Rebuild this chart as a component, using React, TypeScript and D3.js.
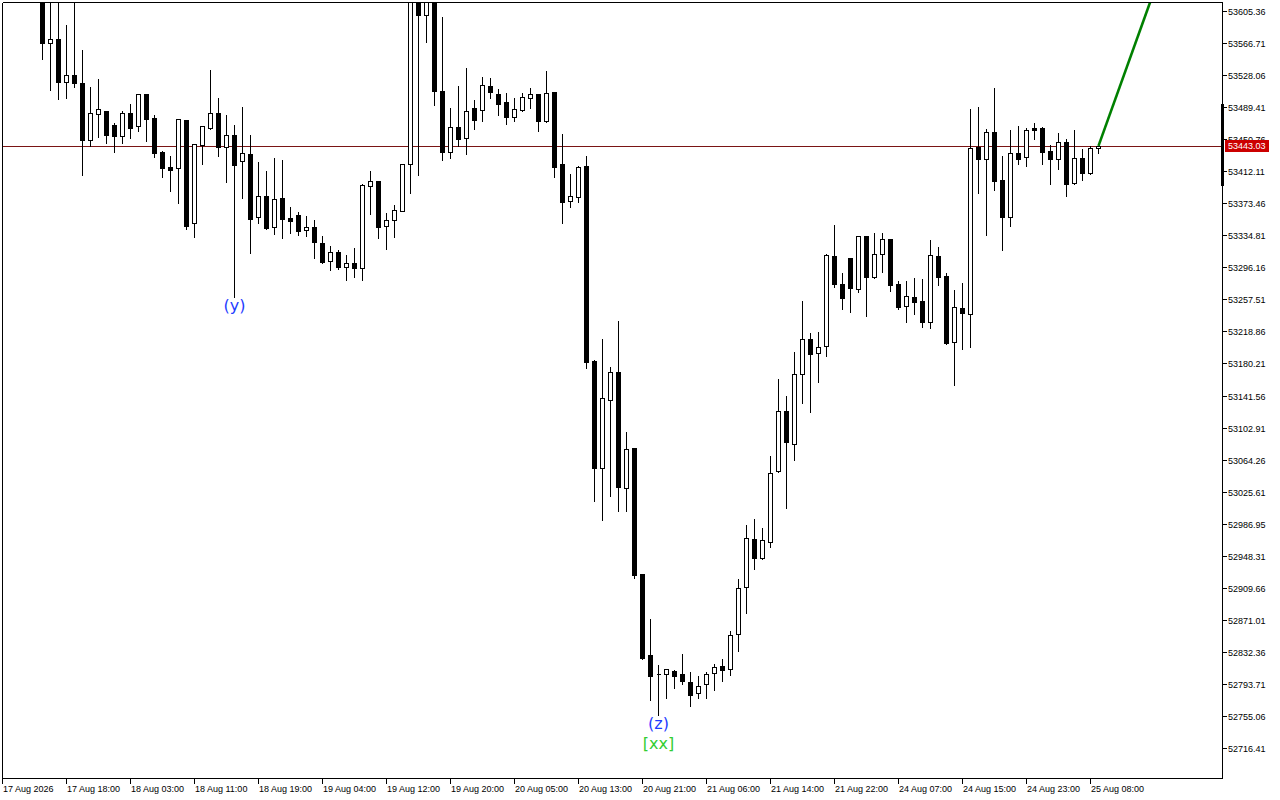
import * as d3 from 'd3'

// first visible bar index (bars 0-4 sit above the visible price range)
const firstBar = 5

const opens = [
  53625, 53567.6, 53572.1, 53519.8, 53528.3, 53519.0, 53450.5, 53481.9, 53485.1, 53467.9, 53455.3,
  53482.7, 53467.4, 53506.0, 53476.7, 53435.6, 53417.5, 53415.9, 53474.3, 53350.2, 53444.4, 53465.0,
  53482.7, 53442.0, 53455.8, 53424.4, 53432.9, 53356.8, 53382.1, 53344.7, 53379.7, 53355.6, 53359.2,
  53341.1, 53344.7, 53325.4, 53303.6, 53314.5, 53297.1, 53301.2, 53295.9, 53394.9, 53401.0, 53345.9,
  53353.9, 53364.7, 53420.8, 53625.2, 53600.7, 53622.8, 53509.3, 53436.0, 53465.8, 53452.9, 53488.8,
  53486.7, 53515.3, 53505.7, 53496.0, 53478.3, 53486.4, 53501.2, 53505.7, 53472.7, 53508.1, 53421.1,
  53376.1, 53381.6, 53418.7, 53183.2, 53054.4, 53136.5, 53169.9, 53030.2, 53078.2, 52926.0, 52828.2,
  52805.8, 52804.9, 52808.5, 52804.9, 52795.2, 52781.9, 52792.8, 52806.1, 52814.5, 52810.9, 52853.2,
  52909.9, 52967.9, 52944.9, 52965.0, 53050.0, 53122.5, 53082.6, 53167.2, 53209.4, 53192.5, 53201.0,
  53309.7, 53275.8, 53307.3, 53269.8, 53333.8, 53284.3, 53312.4, 53330.2, 53275.8, 53249.3, 53260.2,
  53255.3, 53230.0, 53309.7, 53285.5, 53205.8, 53246.9, 53239.6, 53441.3, 53427.5, 53459.4, 53401.8,
  53357.5, 53434.1, 53429.2, 53464.6, 53464.6, 53436.5, 53427.5, 53447.3, 53398.6, 53428.0, 53410.6,
  53440.1,
]

const highs = [
  53637, 53630, 53628, 53590.2, 53622, 53560.0, 53515.3, 53525.0, 53486, 53471.9, 53486.4,
  53495.2, 53506.9, 53507.2, 53481.5, 53438.0, 53432.0, 53477.1, 53475.5, 53446, 53468.2, 53535.9,
  53502.1, 53481.5, 53469.4, 53491.2, 53457.0, 53424.8, 53413.9, 53429.6, 53427.2, 53370.4, 53364.4,
  53359.5, 53354.7, 53335.0, 53323.0, 53318.1, 53312.1, 53320.9, 53398.2, 53413.9, 53401.8, 53363.2,
  53372.8, 53422.3, 53633.7, 53631.3, 53628.9, 53626.4, 53599.9, 53490.0, 53516.5, 53538.3, 53499.6,
  53527.4, 53526.2, 53512.9, 53508.1, 53502.1, 53508.1, 53514.1, 53506.3, 53534.7, 53508.7, 53458.6,
  53410.3, 53419.9, 53432.0, 53185.6, 53211.0, 53177.2, 53232.7, 53098.7, 53078.8, 52926.6, 52872.8,
  52817.3, 52811.3, 52811.6, 52830.6, 52808.8, 52803.6, 52808.5, 52818.1, 52824.2, 52858.7, 52921.1,
  52986.4, 52993.6, 52982.4, 53069.3, 53162.3, 53141.8, 53194.9, 53256.5, 53217.9, 53219.1, 53313.3,
  53348.3, 53290.3, 53307.6, 53334.2, 53334.2, 53338.7, 53339.0, 53330.6, 53280.7, 53281.0, 53284.7,
  53283.5, 53330.6, 53322.1, 53290.3, 53270.2, 53278.6, 53488.8, 53491.2, 53464.3, 53514.1, 53431.6,
  53463.8, 53468.2, 53466.2, 53471.9, 53467.0, 53445.3, 53459.8, 53452.5, 53463.4, 53440.5, 53443.7,
  53443.5,
]

const lows = [
  53548.3, 53510.9, 53500.0, 53501.2, 53514.5, 53408.2, 53443.2, 53454.1, 53446.5, 53436.0, 53446.9,
  53452.9, 53461.4, 53449.3, 53430.0, 53405.8, 53388.9, 53374.4, 53342.3, 53333.3, 53421.5, 53464,
  53431.2, 53399.8, 53260.9, 53380.4, 53314.0, 53350.2, 53343.0, 53337.0, 53332.1, 53338.2, 53335.8,
  53334.5, 53308.0, 53301.9, 53293.5, 53294.7, 53281.4, 53285.0, 53281.4, 53361.1, 53332.1, 53318.1,
  53333.3, 53364.4, 53386.5, 53408.2, 53568.8, 53492.8, 53426.3, 53428.7, 53443.2, 53433.6, 53463.8,
  53473.4, 53501.2, 53480.7, 53469.8, 53473.1, 53485.1, 53489.1, 53461.0, 53471.9, 53405.4, 53349.9,
  53369.2, 53375.2, 53174.8, 53014.1, 52991.2, 53020.2, 53002.4, 53002.4, 52921.5, 52823.9, 52773.8,
  52755.7, 52776.6, 52788.7, 52793.5, 52766.9, 52776.6, 52776.6, 52786.2, 52797.1, 52804.4, 52833.3,
  52879.2, 52932.4, 52943.7, 52959.0, 53049.4, 53006.1, 53063.3, 53132.1, 53121.3, 53157.5, 53188.9,
  53272.2, 53245.7, 53242.8, 53266.2, 53237.9, 53284, 53291.1, 53268.1, 53246.4, 53230.7, 53240.3,
  53224.6, 53223.4, 53275.4, 53204.1, 53154.6, 53198.1, 53200.5, 53386.5, 53335.8, 53390.1, 53317.3,
  53346.3, 53421.1, 53418.7, 53451.7, 53421.1, 53397.3, 53415.1, 53382.9, 53397.3, 53402.2, 53409.4,
  53434.8,
]

const closes = [
  53567.6, 53571.7, 53520.5, 53528.3, 53519.3, 53450.5, 53482.4, 53487.6, 53456.5, 53455.3, 53482.4,
  53465.0, 53505.7, 53475.8, 53434.8, 53416.7, 53414.3, 53475.5, 53346.6, 53444.9, 53467.0, 53482.7,
  53442.0, 53455.8, 53420.3, 53434.1, 53355.1, 53382.1, 53344.2, 53378.5, 53354.4, 53352.7, 53339.9,
  53344.7, 53326.6, 53302.8, 53314.5, 53297.1, 53301.2, 53295.9, 53395.8, 53400.2, 53345.4, 53353.5,
  53365.2, 53421.1, 53622.8, 53601.4, 53621.6, 53509.7, 53436.0, 53465.8, 53451.7, 53485.1, 53474.6,
  53516.5, 53508.5, 53494.0, 53478.3, 53487.2, 53502.1, 53505.3, 53473.1, 53506.9, 53417.5, 53375.2,
  53382.5, 53417.5, 53182.0, 53054.4, 53138.5, 53169.9, 53031.4, 53076.9, 52924.8, 52824.5, 52803.2,
  52805.2, 52810.9, 52803.2, 52797.1, 52780.2, 52791.1, 52805.6, 52814.0, 52810.4, 52852.7, 52908.7,
  52969.1, 52944.9, 52966.7, 53047.6, 53122.5, 53085.8, 53167.2, 53209.4, 53191.3, 53199.8, 53310.9,
  53275.8, 53259.7, 53271.0, 53333.8, 53284.3, 53312.1, 53330.2, 53274.6, 53248.8, 53261.4, 53254.8,
  53230.0, 53310.9, 53285.0, 53205.3, 53248.1, 53240.8, 53440.1, 53427.5, 53459.4, 53401.0, 53357.5,
  53434.1, 53426.8, 53461.8, 53462.6, 53436.0, 53426.8, 53447.3, 53397.3, 53428.0, 53410.6, 53440.1,
  53443.03,
]

const timeLabels = [
  "17 Aug 2026", "17 Aug 18:00", "18 Aug 03:00", "18 Aug 11:00", "18 Aug 19:00", "19 Aug 04:00",
  "19 Aug 12:00", "19 Aug 20:00", "20 Aug 05:00", "20 Aug 13:00", "20 Aug 21:00", "21 Aug 06:00",
  "21 Aug 14:00", "21 Aug 22:00", "24 Aug 07:00", "24 Aug 15:00", "24 Aug 23:00", "25 Aug 08:00",
]
const timeLabelBars = [0, 8, 16, 24, 32, 40, 48, 56, 64, 72, 80, 88, 96, 104, 112, 120, 128, 136]

const priceTicks = [
  "53605.36", "53566.71", "53528.06", "53489.41", "53450.76", "53412.11", "53373.46", "53334.81",
  "53296.16", "53257.51", "53218.86", "53180.21", "53141.56", "53102.91", "53064.26", "53025.61",
  "52986.95", "52948.31", "52909.66", "52871.01", "52832.36", "52793.71", "52755.06", "52716.41",
]

const lastPrice = 53443.03
const axisRange = [53395, 53493.3]

// projected wave line
const projection = [
  { bar: 137, price: 53443.03 },
  { bar: 146, price: 53685 },
]

const waveMarks = [
  { bar: 29, label: "(y)" },
  { bar: 82, label: "(z)" },
  { bar: 82, label: "[xx]" },
]

export default function App() {
  const width = 1280
  const height = 800
  const left = 2.5, top = 2.5, right = 1222.5, bottom = 778.5

  const x = d3.scaleLinear().domain([0, 1]).range([2.5, 10.5])
  const y = d3.scaleLinear().domain([52678.4, 53616.8]).range([779, 2])
  const py = (v: number) => Math.round(y(v)) + 0.5

  const bars = opens.map((o, i) => ({
    bar: i + firstBar, o, h: highs[i], l: lows[i], c: closes[i],
  }))

  const line = d3.line<{ bar: number; price: number }>()
    .x(d => x(d.bar))
    .y(d => y(d.price))

  const axisFont = { fontFamily: "Liberation Sans, Arial, sans-serif", fontSize: 9 }

  return (
    <div style={{ position: 'absolute', left: 0, top: 0 }}>
      <svg width={width} height={height} style={{ display: 'block', background: '#fff' }}>
        <defs>
          <clipPath id="plot">
            <rect x={left} y={top} width={right - left} height={bottom - top} />
          </clipPath>
        </defs>

        {/* current price line */}
        <line x1={left} x2={right} y1={py(lastPrice)} y2={py(lastPrice)} stroke="#7a1414" strokeWidth={1} shapeRendering="crispEdges" />

        <g clipPath="url(#plot)" shapeRendering="crispEdges">
          {bars.map(d => {
            const cx = x(d.bar)
            const y0 = py(Math.max(d.o, d.c))
            const y1 = py(Math.min(d.o, d.c))
            const up = d.c >= d.o
            return (
              <g key={d.bar}>
                <line x1={cx} x2={cx} y1={py(d.h)} y2={py(d.l)} stroke="#000" strokeWidth={1} />
                <path
                  d={`M${cx - 2},${y0}H${cx + 2}V${y1}H${cx - 2}Z`}
                  fill={up ? '#fff' : '#000'}
                  stroke="#000"
                  strokeWidth={1}
                />
              </g>
            )
          })}
        </g>

        <g clipPath="url(#plot)">
          <path d={line(projection) || ''} fill="none" stroke="#008000" strokeWidth={2.6} />
        </g>

        {/* wave labels */}
        {waveMarks.map((m, i) => {
          const low = lows[m.bar - firstBar]
          const isBracket = m.label.startsWith('[')
          return (
            <text
              key={i}
              x={x(m.bar)}
              y={y(low) + (isBracket ? 29 : 8.5)}
              textAnchor="middle"
              dominantBaseline="central"
              fontFamily="DejaVu Sans, sans-serif"
              fontSize={16}
              fill={isBracket ? '#32cd32' : '#1e3cff'}
            >
              {m.label}
            </text>
          )
        })}

        {/* frame */}
        <g shapeRendering="crispEdges">
          <line x1={left} x2={right} y1={top} y2={top} stroke="#000" />
          <line x1={left} x2={right} y1={bottom} y2={bottom} stroke="#000" />
          <line x1={left} x2={left} y1={top} y2={bottom} stroke="#000" />
          <line x1={right} x2={right} y1={top} y2={bottom} stroke="#000" />
        </g>

        {/* price axis */}
        <g shapeRendering="crispEdges" {...axisFont}>
          <rect x={1221} y={y(axisRange[1])} width={3} height={y(axisRange[0]) - y(axisRange[1])} fill="#000" />
          {priceTicks.map(t => (
            <g key={t}>
              <line x1={right} x2={right + 4} y1={py(+t)} y2={py(+t)} stroke="#000" />
              <text x={1228} y={py(+t)} dominantBaseline="central" fill="#000">{t}</text>
            </g>
          ))}
          <rect x={1225} y={y(lastPrice) - 6} width={44} height={12} fill="#cc0000" />
          <text x={1228} y={y(lastPrice)} dominantBaseline="central" fill="#fff">{lastPrice.toFixed(2)}</text>
        </g>

        {/* time axis */}
        <g shapeRendering="crispEdges" {...axisFont}>
          {timeLabelBars.map((b, i) => (
            <g key={b}>
              <line x1={x(b)} x2={x(b)} y1={bottom} y2={bottom + 5} stroke="#000" />
              <text x={x(b) + 0.5} y={792} fill="#000">{timeLabels[i]}</text>
            </g>
          ))}
        </g>
      </svg>
    </div>
  )
}
